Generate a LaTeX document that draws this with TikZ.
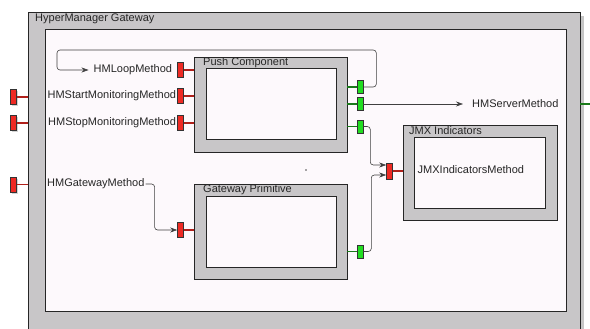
\documentclass[tikz,border=0pt]{standalone}
\usepackage{fontspec}
\setmainfont{Liberation Sans}
\usetikzlibrary{positioning,arrows.meta,shadows}
\definecolor{boxgray}{HTML}{C8C6C8}
\definecolor{panel}{HTML}{FDF9FC}
\definecolor{portred}{HTML}{EE2A24}
\definecolor{stemred}{HTML}{B0201A}
\definecolor{portgreen}{HTML}{22DD22}
\definecolor{stemgreen}{HTML}{1A7A1A}

\begin{document}
\begin{tikzpicture}[x=1pt,y=-1pt,
  font=\fontsize{11}{13}\selectfont,
  frame/.style={draw=black!85,fill=boxgray,line width=0.8pt,inner sep=0pt},
  panelbox/.style={draw=black!85,fill=panel,line width=0.8pt,inner sep=0pt},
  title/.style={anchor=west,inner sep=0pt,text=black!85},
  inport/.style={draw=black!80,fill=portred,minimum width=6pt,minimum height=15pt,inner sep=0pt,line width=0.6pt},
  outport/.style={draw=black!80,fill=portgreen,minimum width=6pt,minimum height=13pt,inner sep=0pt,line width=0.6pt},
  rstem/.style={stemred,line width=1.6pt},
  gstem/.style={stemgreen,line width=1.6pt},
  conn/.style={black!75,line width=0.6pt,rounded corners=3pt,-{Stealth[length=7pt,width=5pt]}},
  lbl/.style={inner sep=1pt,text=black!85}]
% gateway with its three primitives, ports on the frame edges
\useasboundingbox (0,0) rectangle (590,329);
\node[frame,minimum width=552pt,minimum height=333pt,drop shadow={shadow xshift=4pt,shadow yshift=-4pt,opacity=0.45}] (gw) at (304,178.5) {};
\node[panelbox,minimum width=521pt,minimum height=282pt] (gwin) at (305.5,170) {};
\node[title] (gwt) at (35,19) {HyperManager Gateway};

\node[frame,minimum width=153pt,minimum height=95pt] (push) at (270.5,104.5) {};
\node[panelbox,minimum width=130pt,minimum height=71pt] (pushin) at (271,103.5) {};
\node[title] at (203,63) {Push Component};

\node[frame,minimum width=153pt,minimum height=95pt] (gp) at (270.5,231.5) {};
\node[panelbox,minimum width=130pt,minimum height=71pt] (gpin) at (271,231.5) {};
\node[title] at (203,190) {Gateway Primitive};

\node[frame,minimum width=154pt,minimum height=95pt] (jmx) at (480,172.5) {};
\node[panelbox,minimum width=131pt,minimum height=71pt] (jmxin) at (479.5,172.5) {};
\node[title] at (409,131) {JMX Indicators};
\node[lbl,anchor=west] (lJmx) at (416.5,170) {JMXIndicatorsMethod};

% ports of the gateway frame
\node[inport,drop shadow={shadow xshift=2pt,shadow yshift=-2pt,opacity=0.35}] (gwStart) at (13.3,97) {};
\node[inport,drop shadow={shadow xshift=2pt,shadow yshift=-2pt,opacity=0.35}] (gwStop) at (13.3,123) {};
\node[inport,drop shadow={shadow xshift=2pt,shadow yshift=-2pt,opacity=0.35}] (gwGate) at (13.3,184.5) {};
\draw[rstem] (gwStart.east) -- (gwStart -| gw.west);
\draw[rstem] (gwStop.east) -- (gwStop -| gw.west);
\draw[rstem] (gwGate.east) -- (gwGate -| gw.west);
\coordinate (srvOut) at (592,104);
\draw[gstem] (gw.east |- srvOut) -- (srvOut);

% ports of the primitives
\node[inport] (pLoop) at (180.5,70) {};
\node[inport] (pStart) at (180.5,96) {};
\node[inport] (pStop) at (180.5,123) {};
\node[inport] (pGate) at (180.5,230) {};
\node[inport,minimum height=16pt] (pJmx) at (389.5,171) {};
\draw[rstem] (pLoop.east) -- (pLoop -| push.west);
\draw[rstem] (pStart.east) -- (pStart -| push.west);
\draw[rstem] (pStop.east) -- (pStop -| push.west);
\draw[rstem] (pGate.east) -- (pGate -| gp.west);
\draw[rstem] (pJmx.east) -- (pJmx -| jmx.west);

\node[outport] (gLoop) at (360,87) {};
\node[outport] (gServer) at (360,104) {};
\node[outport] (gJmx) at (360,126.5) {};
\node[outport] (gGp) at (360,251.5) {};
\draw[gstem] (push.east |- gLoop) -- (gLoop.west);
\draw[gstem] (push.east |- gServer) -- (gServer.west);
\draw[gstem] (push.east |- gJmx) -- (gJmx.west);
\draw[gstem] (gp.east |- gGp) -- (gGp.west);

% labels
\node[lbl,inner xsep=5pt,left=0pt of pLoop] (lLoop) {HMLoopMethod};
\node[lbl,left=0pt of pStart] (lStart) {HMStartMonitoringMethod};
\node[lbl,left=0pt of pStop] (lStop) {HMStopMonitoringMethod};
\node[lbl,anchor=west] (lGate) at (46,184) {HMGatewayMethod};
\node[lbl,inner xsep=9pt,anchor=west] (lServer) at (463,104) {HMServerMethod};

% connectors
\coordinate (loopTurn) at (57,50);
\draw[conn] (gLoop.east) -- ++(13,0) |- (loopTurn) |- (lLoop.west);
\draw[conn] (gServer.east) -- (lServer.west);
\draw[conn] (lGate.east) -- ++(9,0) |- (pGate.west);
\coordinate (jmxA) at ([yshift=6pt]pJmx.west);
\coordinate (jmxB) at ([yshift=-4pt]pJmx.west);
\draw[conn] (gJmx.east) -- ++(7,0) |- (jmxA);
\draw[conn] (gGp.east) -- ++(8,0) |- (jmxB);

\fill[black!70] (306,170) circle (0.8);
\end{tikzpicture}
\end{document}
